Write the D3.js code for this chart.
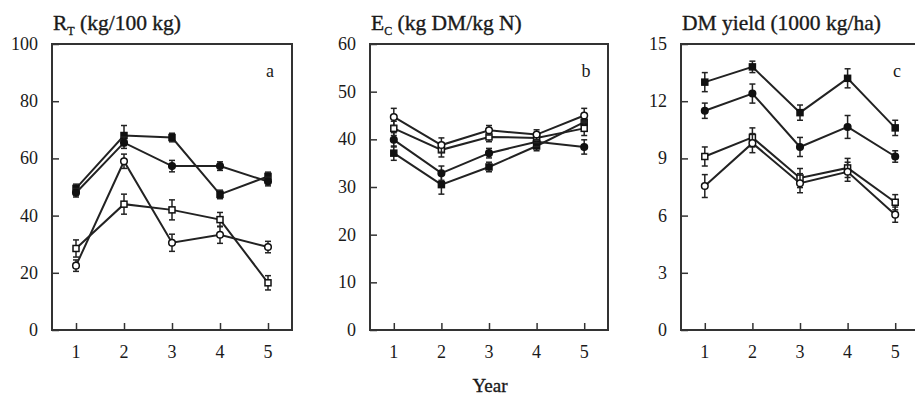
<!DOCTYPE html>
<html lang="en">
    <head>
        <meta charset="utf-8" />
        <script src="https://d3js.org/d3.v7.min.js" charset="utf-8"></script>
        <style>
            body { margin: 0; background: #fff; }
            text { font-family: "Liberation Serif", "DejaVu Serif", serif; fill: #1a1a1a; }
            .tick-label { font-size: 18px; }
            .title { font-size: 21.5px; stroke: #1a1a1a; stroke-width: 0.35; }
            .letter { font-size: 18px; }
            .xtitle { font-size: 19px; stroke: #1a1a1a; stroke-width: 0.35; }
            .frame { fill: none; stroke: #333; stroke-width: 2; }
            .series { fill: none; stroke: #222; stroke-width: 2; }
            .err { stroke: #222; stroke-width: 1.5; }
        </style>
    </head>
    <body>
        <script>
            var years = [1, 2, 3, 4, 5];

            // panel a: R_T (kg/100 kg)
            var rtFilledSq = [49.5, 68.0, 67.3, 47.4, 53.7];
            var rtFilledCi = [48.0, 65.5, 57.3, 57.3, 51.9];
            var rtOpenSq   = [28.5, 44.0, 42.0, 38.6, 16.5];
            var rtOpenCi   = [22.5, 59.0, 30.5, 33.3, 29.0];
            var rtErrFilledSq = [1.5, 3.5, 1.5, 1.5, 1.5];
            var rtErrFilledCi = [1.5, 2.0, 2.0, 1.5, 1.5];
            var rtErrOpenSq   = [3.0, 3.5, 3.5, 2.5, 2.5];
            var rtErrOpenCi   = [2.0, 2.5, 3.0, 3.0, 2.0];

            // panel b: E_C (kg DM/kg N)
            var ecFilledSq = [37.1, 30.5, 34.2, 38.6, 43.6];
            var ecFilledCi = [39.9, 32.9, 37.1, 39.5, 38.4];
            var ecOpenSq   = [42.3, 37.8, 40.5, 40.3, 42.3];
            var ecOpenCi   = [44.7, 38.8, 41.9, 41.0, 45.0];
            var ecErrFilledSq = [1.5, 2.0, 1.0, 1.0, 1.5];
            var ecErrFilledCi = [1.5, 1.5, 1.0, 1.0, 1.5];
            var ecErrOpenSq   = [1.5, 1.5, 1.0, 1.0, 1.5];
            var ecErrOpenCi   = [1.8, 1.5, 1.0, 1.0, 1.5];

            // panel c: DM yield (1000 kg/ha)
            var dmFilledSq = [13.0, 13.8, 11.4, 13.2, 10.6];
            var dmFilledCi = [11.5, 12.4, 9.6, 10.65, 9.1];
            var dmOpenSq   = [9.1, 10.1, 7.97, 8.5, 6.7];
            var dmOpenCi   = [7.55, 9.8, 7.7, 8.3, 6.05];
            var dmErrFilledSq = [0.5, 0.3, 0.4, 0.5, 0.4];
            var dmErrFilledCi = [0.4, 0.5, 0.5, 0.6, 0.3];
            var dmErrOpenSq   = [0.5, 0.5, 0.5, 0.5, 0.4];
            var dmErrOpenCi   = [0.6, 0.5, 0.5, 0.5, 0.4];

            var rtTicks = [0, 20, 40, 60, 80, 100];
            var ecTicks = [0, 10, 20, 30, 40, 50, 60];
            var dmTicks = [0, 3, 6, 9, 12, 15];

            var width = 915,
                height = 395;

            var panels = [
                { left: 52, right: 292, max: 100, ticks: rtTicks, letter: "a",
                  title: ["R", "T", " (kg/100 kg)"],
                  series: [[rtFilledSq, rtErrFilledSq, "fsq"], [rtFilledCi, rtErrFilledCi, "fci"],
                           [rtOpenSq, rtErrOpenSq, "osq"], [rtOpenCi, rtErrOpenCi, "oci"]] },
                { left: 370, right: 608, max: 60, ticks: ecTicks, letter: "b",
                  title: ["E", "C", " (kg DM/kg N)"],
                  series: [[ecFilledSq, ecErrFilledSq, "fsq"], [ecFilledCi, ecErrFilledCi, "fci"],
                           [ecOpenSq, ecErrOpenSq, "osq"], [ecOpenCi, ecErrOpenCi, "oci"]] },
                { left: 681, right: 919, max: 15, ticks: dmTicks, letter: "c",
                  title: ["DM yield (1000 kg/ha)"],
                  series: [[dmFilledSq, dmErrFilledSq, "fsq"], [dmFilledCi, dmErrFilledCi, "fci"],
                           [dmOpenSq, dmErrOpenSq, "osq"], [dmOpenCi, dmErrOpenCi, "oci"]] }
            ];

            var plotTop = 44, plotBottom = 330;

            var svg = d3.select("body").append("svg")
                .attr("width", width)
                .attr("height", height);

            panels.forEach(function (p) {
                var x = d3.scaleLinear().domain([0.5, 5.5]).range([p.left, p.right]);
                var y = d3.scaleLinear().domain([0, p.max]).range([plotBottom, plotTop]);
                var g = svg.append("g");

                g.append("rect").attr("class", "frame")
                    .attr("x", p.left).attr("y", plotTop)
                    .attr("width", p.right - p.left).attr("height", plotBottom - plotTop);

                // y axis, ticks pointing inward
                var ya = g.append("g").attr("transform", "translate(" + p.left + ",0)")
                    .call(d3.axisRight(y).tickValues(p.ticks).tickSize(7).tickFormat(""));
                ya.select(".domain").remove();
                ya.selectAll("line").attr("stroke", "#333").attr("stroke-width", 1.5);
                g.selectAll(".ylab").data(p.ticks).enter().append("text")
                    .attr("class", "tick-label")
                    .attr("x", p.left - 14).attr("y", function (d) { return y(d) + 6; })
                    .attr("text-anchor", "end")
                    .text(function (d) { return d; });

                // x axis, ticks pointing inward
                var xa = g.append("g").attr("transform", "translate(0," + plotBottom + ")")
                    .call(d3.axisTop(x).tickValues(years).tickSize(7).tickFormat(""));
                xa.select(".domain").remove();
                xa.selectAll("line").attr("stroke", "#333").attr("stroke-width", 1.5);
                g.selectAll(".xlab").data(years).enter().append("text")
                    .attr("class", "tick-label")
                    .attr("x", function (d) { return x(d); }).attr("y", plotBottom + 28)
                    .attr("text-anchor", "middle")
                    .text(function (d) { return d; });

                // title
                var t = g.append("text").attr("class", "title").attr("x", p.left + 1).attr("y", 30);
                t.append("tspan").text(p.title[0]);
                if (p.title.length > 1) {
                    t.append("tspan").attr("dy", 5).style("font-size", "12px").text(p.title[1]);
                    t.append("tspan").attr("dy", -5).text(p.title[2]);
                }

                g.append("text").attr("class", "letter")
                    .attr("x", x(5.5) - 22).attr("y", 77)
                    .attr("text-anchor", "middle").text(p.letter);

                var line = d3.line().x(function (d, i) { return x(years[i]); }).y(function (d) { return y(d); });

                p.series.forEach(function (s) {
                    var vals = s[0], errs = s[1], kind = s[2];
                    g.append("path").attr("class", "series").attr("d", line(vals));
                    years.forEach(function (yr, i) {
                        var cx = x(yr), lo = y(vals[i] - errs[i]), hi = y(vals[i] + errs[i]);
                        g.append("line").attr("class", "err").attr("x1", cx).attr("x2", cx).attr("y1", lo).attr("y2", hi);
                        g.append("line").attr("class", "err").attr("x1", cx - 3).attr("x2", cx + 3).attr("y1", lo).attr("y2", lo);
                        g.append("line").attr("class", "err").attr("x1", cx - 3).attr("x2", cx + 3).attr("y1", hi).attr("y2", hi);
                    });
                    var filled = kind.charAt(0) === "f";
                    var mk = g.selectAll(".m-" + kind).data(vals).enter();
                    if (kind.slice(1) === "sq") {
                        mk.append("rect")
                            .attr("x", function (d, i) { return x(years[i]) - 3; })
                            .attr("y", function (d) { return y(d) - 3; })
                            .attr("width", 6).attr("height", 6)
                            .attr("fill", filled ? "#111" : "#fff")
                            .attr("stroke", "#111").attr("stroke-width", 1.5);
                    } else {
                        mk.append("circle")
                            .attr("cx", function (d, i) { return x(years[i]); })
                            .attr("cy", function (d) { return y(d); })
                            .attr("r", 3.3)
                            .attr("fill", filled ? "#111" : "#fff")
                            .attr("stroke", "#111").attr("stroke-width", 1.5);
                    }
                });
            });

            svg.append("text").attr("class", "xtitle")
                .attr("x", 490).attr("y", 392)
                .attr("text-anchor", "middle").text("Year");
        </script>
    </body>
</html>
